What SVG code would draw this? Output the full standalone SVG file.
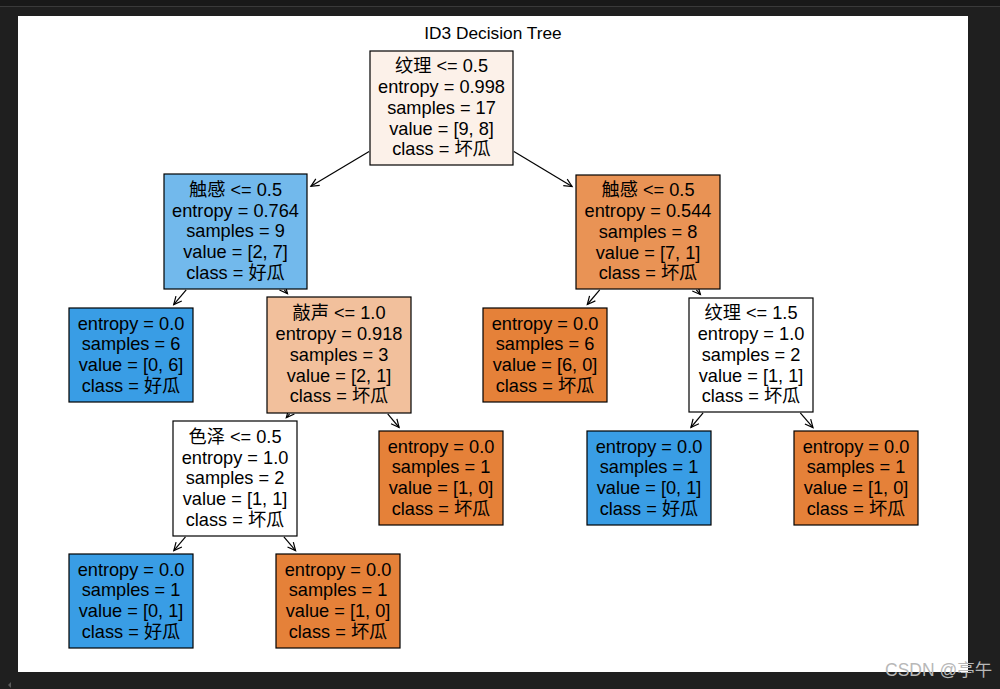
<svg xmlns="http://www.w3.org/2000/svg" width="1000" height="689" viewBox="0 0 1000 689">
<defs>
<style>
.bg{fill:#1f1f1f}
.fig{fill:#ffffff}
.box{stroke:#000;stroke-width:1.2}
.t{font-family:"Liberation Sans","Noto Sans CJK SC",sans-serif;font-size:18.2px;fill:#000;text-anchor:middle}
.title{font-family:"Liberation Sans","Noto Sans CJK SC",sans-serif;font-size:17.3px;fill:#000;text-anchor:middle}
.edge{stroke:#000;stroke-width:1.2;fill:none;marker-end:url(#ah)}
.wm{font-family:"Liberation Sans","Noto Sans CJK SC",sans-serif;font-size:17.5px;fill:#b8b8b8}
</style>
<marker id="ah" markerUnits="userSpaceOnUse" markerWidth="14" markerHeight="14" viewBox="-11 -7 14 14" refX="0" refY="0" orient="auto">
<path d="M-8,-3.8 L0,0 L-8,3.8" fill="none" stroke="#000" stroke-width="1.2"/>
</marker>
</defs>
<rect class="bg" x="0" y="0" width="1000" height="689"/>
<rect x="0" y="0" width="1000" height="6" fill="#191919"/>
<line x1="0" y1="6.5" x2="1000" y2="6.5" stroke="#3a3a3a" stroke-width="1"/>
<path d="M11,682 L8,685 L11,688 Z" fill="#5a5a5a"/>
<rect class="fig" x="18" y="16" width="950" height="656"/>
<text class="title" x="493" y="38.5">ID3 Decision Tree</text>

<g id="connectors">
<line class="edge" x1="369.1" y1="151.4" x2="310.9" y2="186.3"/>
<line class="edge" x1="513.9" y1="151.4" x2="572.1" y2="186.5"/>
<line class="edge" x1="186.2" y1="289.8" x2="173.7" y2="304.6"/>
<line class="edge" x1="284.3" y1="289.8" x2="287.5" y2="293.6"/>
<line class="edge" x1="599.7" y1="289.8" x2="587.3" y2="304.5"/>
<line class="edge" x1="696.3" y1="289.8" x2="700.4" y2="294.5"/>
<line class="edge" x1="289.6" y1="413.8" x2="286.3" y2="417.6"/>
<line class="edge" x1="387.7" y1="413.8" x2="399.1" y2="427.5"/>
<line class="edge" x1="703.1" y1="412.8" x2="690.9" y2="427.5"/>
<line class="edge" x1="800.3" y1="412.8" x2="813" y2="427.6"/>
<line class="edge" x1="185.5" y1="536.8" x2="173.8" y2="550.6"/>
<line class="edge" x1="283.9" y1="536.8" x2="295.6" y2="550.6"/>
</g>

<g id="n0">
<rect class="box" x="370" y="51" width="143" height="114" fill="#fcf1e9"/>
<text class="t" x="441.5" y="72.4">纹理 &lt;= 0.5<tspan x="441.5" dy="20.7">entropy = 0.998</tspan><tspan x="441.5" dy="20.7">samples = 17</tspan><tspan x="441.5" dy="20.7">value = [9, 8]</tspan><tspan x="441.5" dy="20.7">class = 坏瓜</tspan></text>
</g>
<g id="n1">
<rect class="box" x="164" y="174" width="143" height="115" fill="#72b9ec"/>
<text class="t" x="235.5" y="195.9">触感 &lt;= 0.5<tspan x="235.5" dy="20.7">entropy = 0.764</tspan><tspan x="235.5" dy="20.7">samples = 9</tspan><tspan x="235.5" dy="20.7">value = [2, 7]</tspan><tspan x="235.5" dy="20.7">class = 好瓜</tspan></text>
</g>
<g id="n2">
<rect class="box" x="69" y="308" width="124" height="94" fill="#399de5"/>
<text class="t" x="131" y="329.75">entropy = 0.0<tspan x="131" dy="20.7">samples = 6</tspan><tspan x="131" dy="20.7">value = [0, 6]</tspan><tspan x="131" dy="20.7">class = 好瓜</tspan></text>
</g>
<g id="n3">
<rect class="box" x="267" y="297" width="144" height="116" fill="#f2c09c"/>
<text class="t" x="339" y="319.4">敲声 &lt;= 1.0<tspan x="339" dy="20.7">entropy = 0.918</tspan><tspan x="339" dy="20.7">samples = 3</tspan><tspan x="339" dy="20.7">value = [2, 1]</tspan><tspan x="339" dy="20.7">class = 坏瓜</tspan></text>
</g>
<g id="n4">
<rect class="box" x="173" y="421" width="124" height="115" fill="#ffffff"/>
<text class="t" x="235" y="442.9">色泽 &lt;= 0.5<tspan x="235" dy="20.7">entropy = 1.0</tspan><tspan x="235" dy="20.7">samples = 2</tspan><tspan x="235" dy="20.7">value = [1, 1]</tspan><tspan x="235" dy="20.7">class = 坏瓜</tspan></text>
</g>
<g id="n5">
<rect class="box" x="69" y="554" width="124" height="94" fill="#399de5"/>
<text class="t" x="131" y="575.75">entropy = 0.0<tspan x="131" dy="20.7">samples = 1</tspan><tspan x="131" dy="20.7">value = [0, 1]</tspan><tspan x="131" dy="20.7">class = 好瓜</tspan></text>
</g>
<g id="n6">
<rect class="box" x="276" y="554" width="124" height="94" fill="#e58139"/>
<text class="t" x="338" y="575.75">entropy = 0.0<tspan x="338" dy="20.7">samples = 1</tspan><tspan x="338" dy="20.7">value = [1, 0]</tspan><tspan x="338" dy="20.7">class = 坏瓜</tspan></text>
</g>
<g id="n7">
<rect class="box" x="379" y="431" width="124" height="94" fill="#e58139"/>
<text class="t" x="441" y="452.75">entropy = 0.0<tspan x="441" dy="20.7">samples = 1</tspan><tspan x="441" dy="20.7">value = [1, 0]</tspan><tspan x="441" dy="20.7">class = 坏瓜</tspan></text>
</g>
<g id="n8">
<rect class="box" x="576" y="175" width="144" height="114" fill="#e99355"/>
<text class="t" x="648" y="196.4">触感 &lt;= 0.5<tspan x="648" dy="20.7">entropy = 0.544</tspan><tspan x="648" dy="20.7">samples = 8</tspan><tspan x="648" dy="20.7">value = [7, 1]</tspan><tspan x="648" dy="20.7">class = 坏瓜</tspan></text>
</g>
<g id="n9">
<rect class="box" x="483" y="308" width="124" height="94" fill="#e58139"/>
<text class="t" x="545" y="329.75">entropy = 0.0<tspan x="545" dy="20.7">samples = 6</tspan><tspan x="545" dy="20.7">value = [6, 0]</tspan><tspan x="545" dy="20.7">class = 坏瓜</tspan></text>
</g>
<g id="n10">
<rect class="box" x="689" y="298" width="124" height="114" fill="#ffffff"/>
<text class="t" x="751" y="319.4">纹理 &lt;= 1.5<tspan x="751" dy="20.7">entropy = 1.0</tspan><tspan x="751" dy="20.7">samples = 2</tspan><tspan x="751" dy="20.7">value = [1, 1]</tspan><tspan x="751" dy="20.7">class = 坏瓜</tspan></text>
</g>
<g id="n11">
<rect class="box" x="587" y="431" width="124" height="94" fill="#399de5"/>
<text class="t" x="649" y="452.75">entropy = 0.0<tspan x="649" dy="20.7">samples = 1</tspan><tspan x="649" dy="20.7">value = [0, 1]</tspan><tspan x="649" dy="20.7">class = 好瓜</tspan></text>
</g>
<g id="n12">
<rect class="box" x="794" y="431" width="124" height="94" fill="#e58139"/>
<text class="t" x="856" y="452.75">entropy = 0.0<tspan x="856" dy="20.7">samples = 1</tspan><tspan x="856" dy="20.7">value = [1, 0]</tspan><tspan x="856" dy="20.7">class = 坏瓜</tspan></text>
</g>

<text class="wm" x="885" y="676">CSDN @亭午</text>
</svg>
